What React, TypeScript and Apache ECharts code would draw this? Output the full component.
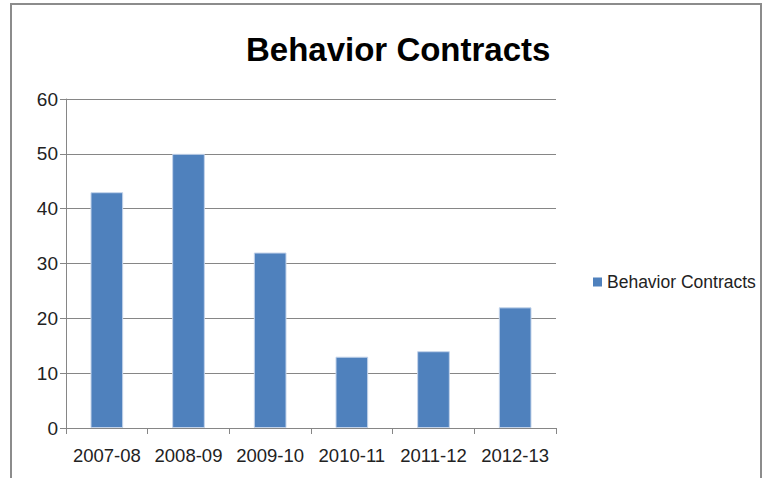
import React, { useEffect, useRef } from "react";
import * as echarts from "echarts";

const categories = ["2007-08", "2008-09", "2009-10", "2010-11", "2011-12", "2012-13"];
const values = [43, 50, 32, 13, 14, 22];
const seriesName = "Behavior Contracts";
const chartTitle = "Behavior Contracts";

export default function App() {
  const ref = useRef<HTMLDivElement>(null);
  useEffect(() => {
    document.body.style.margin = "0";
    const chart = echarts.init(ref.current!, null, { renderer: "svg" });
    const font = "Liberation Sans, Arial, sans-serif";
    chart.setOption({
      animation: false,
      backgroundColor: "#ffffff",
      textStyle: { fontFamily: font },
      title: {
        text: chartTitle,
        left: 241,
        top: 28,
        textStyle: { fontFamily: font, fontSize: 33, fontWeight: "bold", color: "#000" },
      },
      legend: {
        data: [seriesName],
        orient: "vertical",
        left: 588,
        top: 268,
        itemWidth: 9,
        itemHeight: 9,
        itemGap: 6,
        icon: "rect",
        itemStyle: { borderWidth: 0 },
        textStyle: { fontFamily: font, fontSize: 17.5, color: "#222" },
      },
      grid: { left: 66, right: 211, top: 99, bottom: 50, containLabel: false },
      xAxis: {
        type: "category",
        data: categories,
        axisLine: { lineStyle: { color: "#868686", width: 1 } },
        axisTick: { show: true, length: 6, interval: 0, lineStyle: { color: "#868686" } },
        axisLabel: { fontFamily: font, fontSize: 18.5, color: "#222", margin: 18, interval: 0, hideOverlap: false },
      },
      yAxis: {
        type: "value",
        min: 0,
        max: 60,
        interval: 10,
        axisLine: { show: true, lineStyle: { color: "#868686", width: 1 } },
        axisTick: { show: true, length: 6, lineStyle: { color: "#868686" } },
        splitLine: { show: true, lineStyle: { color: "#868686", width: 1 } },
        axisLabel: { fontFamily: font, fontSize: 19, color: "#222", margin: 8 },
      },
      series: [
        {
          name: seriesName,
          type: "bar",
          data: values,
          barCategoryGap: "60%",
          itemStyle: { color: "#4F81BD", borderColor: "#c3d3ea", borderWidth: 1 },
        },
      ],
      graphic: [
        {
          type: "rect",
          shape: { x: 11, y: 4, width: 750, height: 520 },
          style: { fill: "none", stroke: "#8c8c8c", lineWidth: 2 },
          silent: true,
          z: -1,
        },
      ],
    });
    return () => chart.dispose();
  }, []);
  return <div ref={ref} style={{ width: 767, height: 478 }} />;
}
